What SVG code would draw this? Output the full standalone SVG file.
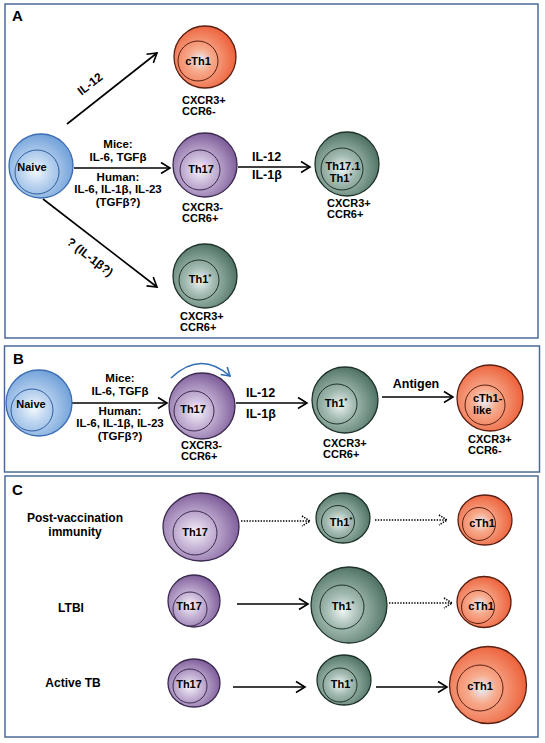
<svg xmlns="http://www.w3.org/2000/svg" width="545" height="743" viewBox="0 0 545 743">
<style>
text{font-family:"Liberation Sans",Arial,Helvetica,sans-serif;font-weight:bold;fill:#000}
.panel{fill:none;stroke:#4a6b9a;stroke-width:1.5}
.pl{font-size:15px}
.lab{font-size:11.5px;text-anchor:middle}
.rot{font-size:12px;text-anchor:middle}
.cyt{font-size:12.5px}
.cell{font-size:11px;text-anchor:middle}
.mk{font-size:11px}
.row{font-size:12px;text-anchor:middle}
.sup{font-size:7px}
.ln{stroke:#000;stroke-width:1.6;fill:none;marker-end:url(#ah)}
.dt{stroke:#000;stroke-width:1.6;fill:none;stroke-dasharray:1.4 1.4;marker-end:url(#ahd)}
.pu{fill:url(#gp);stroke:#3b2a4f;stroke-width:1.3}
.gr{fill:url(#gg);stroke:#1f3329;stroke-width:1.3}
.or{fill:url(#go);stroke:#5a1f10;stroke-width:1.3}
.bl{fill:url(#gb);stroke:#3a6db3;stroke-width:1.3}
.ipu{fill:none;stroke:#3b2a4f;stroke-width:1}
.igr{fill:none;stroke:#1f3329;stroke-width:1}
.ior{fill:none;stroke:#5a1f10;stroke-width:1}
.ibl{fill:none;stroke:#2f5f9f;stroke-width:1}
</style>
<defs>
<radialGradient id="gp" cx="0.42" cy="0.58" r="0.62"><stop offset="0" stop-color="#f6f2f9"/><stop offset="0.35" stop-color="#c9b8d8"/><stop offset="1" stop-color="#7a5896"/></radialGradient>
<radialGradient id="gg" cx="0.42" cy="0.58" r="0.62"><stop offset="0" stop-color="#eef4f2"/><stop offset="0.35" stop-color="#a3bbb2"/><stop offset="1" stop-color="#4a6e5f"/></radialGradient>
<radialGradient id="go" cx="0.42" cy="0.55" r="0.62"><stop offset="0" stop-color="#e9eef8"/><stop offset="0.3" stop-color="#f7ab8d"/><stop offset="1" stop-color="#ec5a33"/></radialGradient>
<radialGradient id="gb" cx="0.42" cy="0.58" r="0.62"><stop offset="0" stop-color="#f3f8fd"/><stop offset="0.35" stop-color="#bdd5f0"/><stop offset="1" stop-color="#6d9ed8"/></radialGradient>
<marker id="ah" markerUnits="userSpaceOnUse" markerWidth="14" markerHeight="14" refX="11" refY="7" orient="auto"><path d="M2,1.5 L11,7 L2,12.5" fill="none" stroke="#000" stroke-width="1.6"/></marker>
<marker id="ahd" markerUnits="userSpaceOnUse" markerWidth="14" markerHeight="14" refX="11" refY="7" orient="auto"><path d="M3,2 L11,7 L3,12" fill="none" stroke="#000" stroke-width="1.5" stroke-dasharray="1.4 1.2"/></marker>
<marker id="ahb" markerUnits="userSpaceOnUse" markerWidth="14" markerHeight="14" refX="10" refY="7" orient="auto"><path d="M2,2 L10,7 L2,12" fill="none" stroke="#2f6db5" stroke-width="1.6"/></marker>
</defs>

<!-- panels -->
<rect class="panel" x="5" y="4" width="533" height="334"/>
<rect class="panel" x="4.5" y="346" width="535" height="126"/>
<rect class="panel" x="5" y="476" width="533" height="261"/>
<text class="pl" x="12" y="21">A</text>
<text class="pl" x="13" y="364">B</text>
<text class="pl" x="12" y="495">C</text>

<g id="connectors">
<!-- A -->
<line class="ln" x1="67" y1="124" x2="157" y2="53"/>
<line class="ln" x1="74" y1="168" x2="170" y2="168"/>
<line class="ln" x1="238" y1="167" x2="310" y2="167"/>
<line class="ln" x1="43" y1="199" x2="157" y2="287"/>
<!-- B -->
<line class="ln" x1="72" y1="403" x2="167" y2="403"/>
<line class="ln" x1="236" y1="403" x2="307" y2="403"/>
<line class="ln" x1="382" y1="397" x2="453" y2="397"/>
<path d="M171,378 Q200,350 230,376" fill="none" stroke="#2f6db5" stroke-width="1.6" marker-end="url(#ahb)"/>
<!-- C -->
<line class="dt" x1="241" y1="521" x2="310" y2="521"/>
<line class="dt" x1="375" y1="520" x2="447" y2="520"/>
<line class="ln" x1="237" y1="604" x2="308" y2="604"/>
<line class="dt" x1="389" y1="603" x2="452" y2="603"/>
<line class="ln" x1="233" y1="687" x2="305" y2="687"/>
<line class="ln" x1="376" y1="687" x2="447" y2="687"/>
</g>

<g id="labels-A">
<text class="rot" transform="translate(90,84) rotate(-38)" y="4">IL-12</text>
<text class="rot" transform="translate(90,257) rotate(37.7)" y="4">? (IL-1β?)</text>
<text class="lab" x="118" y="148">Mice:</text>
<text class="lab" x="118" y="161">IL-6, TGFβ</text>
<text class="lab" x="118" y="181">Human:</text>
<text class="lab" x="118" y="193">IL-6, IL-1β, IL-23</text>
<text class="lab" x="118" y="206">(TGFβ?)</text>
<text class="cyt" x="252" y="161">IL-12</text>
<text class="cyt" x="252" y="179">IL-1β</text>
</g>

<g id="labels-B">
<text class="lab" x="120" y="382">Mice:</text>
<text class="lab" x="120" y="395">IL-6, TGFβ</text>
<text class="lab" x="120" y="415">Human:</text>
<text class="lab" x="120" y="427">IL-6, IL-1β, IL-23</text>
<text class="lab" x="120" y="440">(TGFβ?)</text>
<text class="cyt" x="246" y="397">IL-12</text>
<text class="cyt" x="246" y="418">IL-1β</text>
<text class="cyt" x="416" y="388" text-anchor="middle">Antigen</text>
</g>

<g id="labels-C">
<text class="row" x="75" y="522">Post-vaccination</text>
<text class="row" x="75" y="536">immunity</text>
<text class="row" x="71" y="612">LTBI</text>
<text class="row" x="73" y="687">Active TB</text>
</g>

<!-- Panel A nodes -->
<g id="A-naive">
<circle class="bl" cx="41" cy="166" r="32"/>
<circle class="ibl" cx="37" cy="172" r="22"/>
<text class="cell" x="32" y="171">Naive</text>
</g>
<g id="A-cTh1">
<circle class="or" cx="205" cy="57" r="31"/>
<circle class="ior" cx="198" cy="61" r="20"/>
<text class="cell" x="198" y="65">cTh1</text>
<text class="mk" x="182" y="104">CXCR3+</text>
<text class="mk" x="182" y="115">CCR6-</text>
</g>
<g id="A-Th17">
<circle class="pu" cx="205" cy="165" r="32"/>
<circle class="ipu" cx="200" cy="170" r="20"/>
<text class="cell" x="201" y="173">Th17</text>
<text class="mk" x="182" y="211">CXCR3-</text>
<text class="mk" x="182" y="222">CCR6+</text>
</g>
<g id="A-Th17-1">
<circle class="gr" cx="347" cy="164" r="32"/>
<circle class="igr" cx="342" cy="169" r="21"/>
<text class="cell" x="343" y="170">Th17.1</text>
<text class="cell" x="341" y="182">Th1<tspan class="sup" dy="-4">*</tspan></text>
<text class="mk" x="327" y="207">CXCR3+</text>
<text class="mk" x="327" y="218">CCR6+</text>
</g>
<g id="A-Th1star">
<circle class="gr" cx="205" cy="276" r="32"/>
<circle class="igr" cx="199" cy="280" r="20"/>
<text class="cell" x="200" y="283">Th1<tspan class="sup" dy="-4">*</tspan></text>
<text class="mk" x="180" y="320">CXCR3+</text>
<text class="mk" x="180" y="331">CCR6+</text>
</g>

<!-- Panel B nodes -->
<g id="B-naive">
<circle class="bl" cx="39" cy="403" r="33"/>
<circle class="ibl" cx="32" cy="410" r="21"/>
<text class="cell" x="31" y="408">Naive</text>
</g>
<g id="B-Th17">
<circle class="pu" cx="202" cy="406" r="33"/>
<circle class="ipu" cx="194" cy="411" r="20"/>
<text class="cell" x="193" y="413">Th17</text>
<text class="mk" x="181" y="449">CXCR3-</text>
<text class="mk" x="181" y="460">CCR6+</text>
</g>
<g id="B-Th1star">
<circle class="gr" cx="345" cy="400" r="33"/>
<circle class="igr" cx="337" cy="404" r="20"/>
<text class="cell" x="336" y="407">Th1<tspan class="sup" dy="-4">*</tspan></text>
<text class="mk" x="323" y="447">CXCR3+</text>
<text class="mk" x="323" y="458">CCR6+</text>
</g>
<g id="B-cTh1like">
<circle class="or" cx="490" cy="398" r="33"/>
<circle class="ior" cx="485" cy="405" r="20"/>
<text class="mk" x="473" y="402">cTh1-</text>
<text class="mk" x="473" y="414">like</text>
<text class="mk" x="468" y="443">CXCR3+</text>
<text class="mk" x="468" y="454">CCR6-</text>
</g>

<!-- Panel C nodes -->
<g id="C1-Th17">
<ellipse class="pu" cx="201" cy="527" rx="38" ry="34"/>
<circle class="ipu" cx="195" cy="533" r="22"/>
<text class="cell" x="195" y="536">Th17</text>
</g>
<g id="C1-Th1">
<ellipse class="gr" cx="343" cy="518" rx="27" ry="25"/>
<circle class="igr" cx="338" cy="522" r="16.5"/>
<text class="cell" x="341" y="526">Th1<tspan class="sup" dy="-4">*</tspan></text>
</g>
<g id="C1-cTh1">
<ellipse class="or" cx="485" cy="520" rx="27" ry="25"/>
<circle class="ior" cx="479" cy="524" r="16.5"/>
<text class="cell" x="482" y="527">cTh1</text>
</g>
<g id="C2-Th17">
<ellipse class="pu" cx="194" cy="601" rx="26" ry="26"/>
<circle class="ipu" cx="190" cy="609" r="17"/>
<text class="cell" x="189" y="610">Th17</text>
</g>
<g id="C2-Th1">
<circle class="gr" cx="349" cy="605" r="38"/>
<circle class="igr" cx="342" cy="607" r="22"/>
<text class="cell" x="343" y="610">Th1<tspan class="sup" dy="-4">*</tspan></text>
</g>
<g id="C2-cTh1">
<ellipse class="or" cx="484" cy="602" rx="27" ry="25.5"/>
<circle class="ior" cx="478" cy="607" r="16.5"/>
<text class="cell" x="481" y="610">cTh1</text>
</g>
<g id="C3-Th17">
<ellipse class="pu" cx="194" cy="683" rx="26" ry="24"/>
<circle class="ipu" cx="190" cy="686" r="17"/>
<text class="cell" x="189" y="688">Th17</text>
</g>
<g id="C3-Th1">
<ellipse class="gr" cx="344" cy="680" rx="27" ry="25"/>
<circle class="igr" cx="340" cy="685" r="17"/>
<text class="cell" x="342" y="688">Th1<tspan class="sup" dy="-4">*</tspan></text>
</g>
<g id="C3-cTh1">
<circle class="or" cx="488" cy="685" r="38.5"/>
<circle class="ior" cx="480" cy="688" r="23"/>
<text class="cell" x="480" y="690">cTh1</text>
</g>
</svg>
